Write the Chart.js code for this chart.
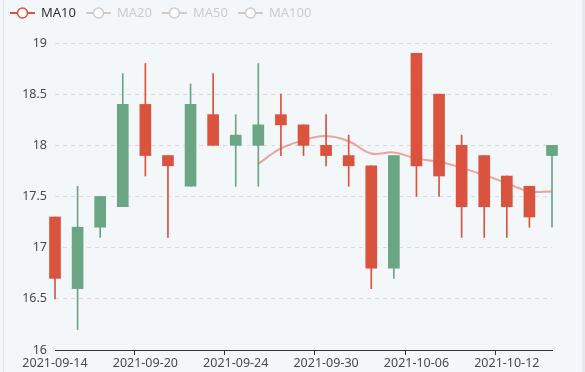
<!DOCTYPE html>
<html>
<head>
<meta charset="utf-8">
<script src="https://cdn.jsdelivr.net/npm/chart.js@4/dist/chart.umd.min.js"></script>
<style>
  html, body { margin: 0; padding: 0; background: #f4f7fa; }
  #wrap { width: 585px; height: 372px; position: relative; }
</style>
</head>
<body>
<div id="wrap"><canvas id="kline" width="585" height="372"></canvas></div>
<script>
// dados
const datas = ['2021-09-14','2021-09-15','2021-09-16','2021-09-17','2021-09-20','2021-09-21','2021-09-22','2021-09-23',
  '2021-09-24','2021-09-27','2021-09-28','2021-09-29','2021-09-30','2021-10-01','2021-10-04','2021-10-05',
  '2021-10-06','2021-10-07','2021-10-08','2021-10-11','2021-10-12','2021-10-13','2021-10-14'];
const abertura   = [16.7, 17.2, 17.5, 18.4, 17.9, 17.8, 18.4, 18.0, 18.1, 18.2, 18.2, 18.0, 17.9, 17.8, 16.8, 17.9, 17.8, 17.7, 17.4, 17.4, 17.4, 17.3, 18.0];
const fechamento = [17.3, 16.6, 17.2, 17.4, 18.4, 17.9, 17.6, 18.3, 18.0, 18.0, 18.3, 18.2, 18.0, 17.9, 17.8, 16.8, 18.9, 18.5, 18.0, 17.9, 17.7, 17.6, 17.9];
const minimas    = [16.5, 16.2, 17.1, 17.4, 17.7, 17.1, 17.6, 18.0, 17.6, 17.6, 17.9, 17.9, 17.8, 17.6, 16.6, 16.7, 17.5, 17.5, 17.1, 17.1, 17.1, 17.2, 17.2];
const maximas    = [17.3, 17.6, 17.5, 18.7, 18.8, 17.9, 18.6, 18.7, 18.3, 18.8, 18.5, 18.2, 18.3, 18.1, 17.8, 17.9, 18.9, 18.5, 18.1, 17.9, 17.7, 17.6, 18.0];
const ma10 = [null, null, null, null, null, null, null, null, null,
  17.82, 17.97, 18.05, 18.09, 18.04, 17.92, 17.93, 17.87, 17.84, 17.78, 17.71, 17.63, 17.55, 17.55];
const legendas = ['MA10', 'MA20', 'MA50', 'MA100'];
const yTicks = [16, 16.5, 17, 17.5, 18, 18.5, 19];

const VERMELHO = '#d9533f';
const VERDE = '#6aa584';
const FONTE = '"Noto Sans", "DejaVu Sans", sans-serif';

function cor(i) { return fechamento[i] >= abertura[i] ? VERMELHO : VERDE; }

// fundo + bordas laterais
const fundo = {
  id: 'fundo',
  beforeDraw(chart) {
    const ctx = chart.ctx;
    ctx.save();
    ctx.fillStyle = '#f4f7fa';
    ctx.fillRect(0, 0, chart.width, chart.height);
    ctx.fillStyle = '#dfe4ea';
    ctx.fillRect(3, 0, 1, chart.height);
    ctx.fillStyle = '#e6eaef';
    ctx.fillRect(582, 0, 3, chart.height);
    ctx.restore();
  }
};

// legenda estilo echarts (linha + circulo)
const legendaMA = {
  id: 'legendaMA',
  afterDraw(chart) {
    const ctx = chart.ctx;
    ctx.save();
    ctx.font = '13px ' + FONTE;
    ctx.textBaseline = 'middle';
    let x = 10;
    const y = 13;
    legendas.forEach((nome, i) => {
      const ativo = i === 0;
      const c = ativo ? VERMELHO : '#cccccc';
      ctx.strokeStyle = c;
      ctx.lineWidth = 2;
      ctx.beginPath();
      ctx.moveTo(x, y); ctx.lineTo(x + 25, y);
      ctx.stroke();
      ctx.beginPath();
      ctx.arc(x + 12.5, y, 5, 0, Math.PI * 2);
      ctx.fillStyle = '#fff';
      ctx.fill();
      ctx.lineWidth = 1.5;
      ctx.stroke();
      ctx.fillStyle = ativo ? '#333' : '#cccccc';
      ctx.fillText(nome, x + 31, y + 0.5);
      x += 31 + ctx.measureText(nome).width + 10;
    });
    ctx.restore();
  }
};

new Chart(document.getElementById('kline'), {
  data: {
    labels: datas,
    datasets: [
      {
        type: 'line',
        label: 'MA10',
        data: ma10,
        borderColor: 'rgba(217,83,63,0.5)',
        borderWidth: 2,
        pointRadius: 0,
        tension: 0.4,
        fill: false,
        order: 0
      },
      {
        type: 'bar',
        label: 'corpo',
        data: abertura.map((o, i) => [o, fechamento[i]]),
        backgroundColor: datas.map((_, i) => cor(i)),
        barThickness: 11,
        grouped: false,
        borderWidth: 0,
        clip: false,
        order: 1
      },
      {
        type: 'bar',
        label: 'pavio',
        data: minimas.map((l, i) => [l, maximas[i]]),
        backgroundColor: datas.map((_, i) => cor(i)),
        barThickness: 1,
        grouped: false,
        borderWidth: 0,
        clip: false,
        order: 2
      }
    ]
  },
  options: {
    responsive: false,
    animation: false,
    events: [],
    layout: { padding: { top: 43, right: 33, left: 0, bottom: 0 } },
    plugins: { legend: { display: false }, tooltip: { enabled: false } },
    scales: {
      x: {
        type: 'category',
        offset: false,
        afterFit: (s) => { s.height = 22; },
        border: { display: true, color: '#333', width: 1 },
        grid: {
          drawOnChartArea: false,
          drawTicks: true,
          tickLength: 5,
          color: (c) => (c.index % 4 === 0 ? '#333' : 'rgba(0,0,0,0)')
        },
        ticks: {
          autoSkip: false,
          maxRotation: 0,
          padding: 1,
          color: '#4a4a4a',
          font: { size: 12.5, family: FONTE },
          callback: function (v, i) { return i % 4 === 0 ? datas[i] : ''; }
        }
      },
      y: {
        min: 16,
        max: 19,
        afterFit: (s) => { s.width = 55; },
        afterBuildTicks: (s) => { s.ticks = yTicks.map(v => ({ value: v })); },
        border: { display: false, dash: [4, 4] },
        grid: { color: '#dcdcdc', drawTicks: false },
        ticks: {
          padding: 8,
          color: '#4a4a4a',
          font: { size: 12.5, family: FONTE },
          callback: (v) => String(v)
        }
      }
    }
  },
  plugins: [fundo, legendaMA]
});
</script>
</body>
</html>
